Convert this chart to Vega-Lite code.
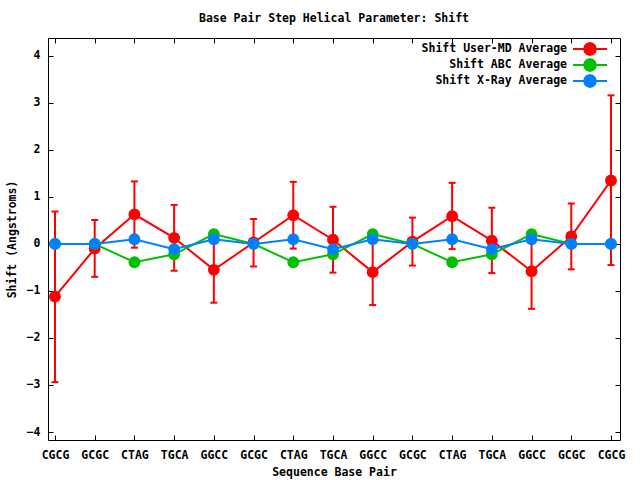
{
  "$schema": "https://vega.github.io/schema/vega-lite/v6.json",
  "width": 572,
  "height": 402,
  "autosize": {"type": "none"},
  "padding": {"left": 48, "top": 38, "right": 20, "bottom": 40},
  "background": "white",
  "title": {"text": "Base Pair Step Helical Parameter: Shift", "fontSize": 11.5, "font": "DejaVu Sans Mono", "fontWeight": "bold", "offset": 13, "color": "black"},
  "config": {
    "font": "DejaVu Sans Mono",
    "view": {"stroke": "black", "strokeWidth": 1},
    "axis": {
      "labelFont": "DejaVu Sans Mono", "labelFontWeight": "bold", "labelFontSize": 11.5, "labelColor": "black",
      "titleFont": "DejaVu Sans Mono", "titleFontWeight": "bold", "titleFontSize": 11.5, "titleColor": "black",
      "grid": false, "domain": false, "tickColor": "black", "tickSize": -5, "tickWidth": 1
    },
    "legend": {"labelFont": "DejaVu Sans Mono", "labelFontWeight": "bold", "labelFontSize": 11.5, "labelColor": "black"}
  },
  "data": {"values": [
    {"i": 0, "series": "Shift User-MD Average", "value": -1.12, "lo": -2.94, "hi": 0.69},
    {"i": 1, "series": "Shift User-MD Average", "value": -0.10, "lo": -0.70, "hi": 0.51},
    {"i": 2, "series": "Shift User-MD Average", "value": 0.63, "lo": -0.08, "hi": 1.33},
    {"i": 3, "series": "Shift User-MD Average", "value": 0.13, "lo": -0.57, "hi": 0.83},
    {"i": 4, "series": "Shift User-MD Average", "value": -0.55, "lo": -1.25, "hi": 0.15},
    {"i": 5, "series": "Shift User-MD Average", "value": 0.03, "lo": -0.48, "hi": 0.53},
    {"i": 6, "series": "Shift User-MD Average", "value": 0.61, "lo": -0.10, "hi": 1.32},
    {"i": 7, "series": "Shift User-MD Average", "value": 0.09, "lo": -0.61, "hi": 0.79},
    {"i": 8, "series": "Shift User-MD Average", "value": -0.60, "lo": -1.30, "hi": 0.10},
    {"i": 9, "series": "Shift User-MD Average", "value": 0.05, "lo": -0.46, "hi": 0.56},
    {"i": 10, "series": "Shift User-MD Average", "value": 0.59, "lo": -0.11, "hi": 1.30},
    {"i": 11, "series": "Shift User-MD Average", "value": 0.07, "lo": -0.62, "hi": 0.77},
    {"i": 12, "series": "Shift User-MD Average", "value": -0.58, "lo": -1.38, "hi": 0.22},
    {"i": 13, "series": "Shift User-MD Average", "value": 0.16, "lo": -0.54, "hi": 0.86},
    {"i": 14, "series": "Shift User-MD Average", "value": 1.35, "lo": -0.45, "hi": 3.16},
    {"i": 0, "series": "Shift ABC Average", "value": 0.0},
    {"i": 1, "series": "Shift ABC Average", "value": 0.0},
    {"i": 2, "series": "Shift ABC Average", "value": -0.39},
    {"i": 3, "series": "Shift ABC Average", "value": -0.22},
    {"i": 4, "series": "Shift ABC Average", "value": 0.21},
    {"i": 5, "series": "Shift ABC Average", "value": 0.0},
    {"i": 6, "series": "Shift ABC Average", "value": -0.39},
    {"i": 7, "series": "Shift ABC Average", "value": -0.22},
    {"i": 8, "series": "Shift ABC Average", "value": 0.21},
    {"i": 9, "series": "Shift ABC Average", "value": 0.0},
    {"i": 10, "series": "Shift ABC Average", "value": -0.39},
    {"i": 11, "series": "Shift ABC Average", "value": -0.22},
    {"i": 12, "series": "Shift ABC Average", "value": 0.21},
    {"i": 13, "series": "Shift ABC Average", "value": 0.0},
    {"i": 14, "series": "Shift ABC Average", "value": 0.0},
    {"i": 0, "series": "Shift X-Ray Average", "value": 0.0},
    {"i": 1, "series": "Shift X-Ray Average", "value": 0.0},
    {"i": 2, "series": "Shift X-Ray Average", "value": 0.10},
    {"i": 3, "series": "Shift X-Ray Average", "value": -0.11},
    {"i": 4, "series": "Shift X-Ray Average", "value": 0.10},
    {"i": 5, "series": "Shift X-Ray Average", "value": 0.0},
    {"i": 6, "series": "Shift X-Ray Average", "value": 0.10},
    {"i": 7, "series": "Shift X-Ray Average", "value": -0.11},
    {"i": 8, "series": "Shift X-Ray Average", "value": 0.10},
    {"i": 9, "series": "Shift X-Ray Average", "value": 0.0},
    {"i": 10, "series": "Shift X-Ray Average", "value": 0.10},
    {"i": 11, "series": "Shift X-Ray Average", "value": -0.11},
    {"i": 12, "series": "Shift X-Ray Average", "value": 0.10},
    {"i": 13, "series": "Shift X-Ray Average", "value": 0.0},
    {"i": 14, "series": "Shift X-Ray Average", "value": 0.0}
  ]},
  "resolve": {"axis": {"x": "independent", "y": "independent"}},
  "layer": [
    {
      "transform": [{"filter": "datum.series === 'Shift User-MD Average'"}],
      "mark": {"type": "rule", "color": "#ff0000", "strokeWidth": 2},
      "encoding": {
        "x": {"field": "i", "type": "quantitative", "axis": null, "scale": {"domain": [-0.176, 14.227], "nice": false, "zero": false}},
        "y": {"field": "lo", "type": "quantitative", "axis": null, "scale": {"domain": [-4.17, 4.38], "nice": false, "zero": false}},
        "y2": {"field": "hi"}
      }
    },
    {
      "transform": [{"filter": "datum.series === 'Shift User-MD Average'"}],
      "mark": {"type": "tick", "color": "#ff0000", "orient": "horizontal", "size": 7, "thickness": 2, "opacity": 1},
      "encoding": {
        "x": {"field": "i", "type": "quantitative", "axis": null},
        "y": {"field": "lo", "type": "quantitative", "axis": null}
      }
    },
    {
      "transform": [{"filter": "datum.series === 'Shift User-MD Average'"}],
      "mark": {"type": "tick", "color": "#ff0000", "orient": "horizontal", "size": 7, "thickness": 2, "opacity": 1},
      "encoding": {
        "x": {"field": "i", "type": "quantitative", "axis": null},
        "y": {"field": "hi", "type": "quantitative", "axis": null}
      }
    },
    {
      "mark": {"type": "line", "strokeWidth": 2},
      "encoding": {
        "x": {"field": "i", "type": "quantitative", "title": "Sequence Base Pair",
          "axis": {"values": [0,1,2,3,4,5,6,7,8,9,10,11,12,13,14], "labelExpr": "['CGCG','GCGC','CTAG','TGCA','GGCC','GCGC','CTAG','TGCA','GGCC','GCGC','CTAG','TGCA','GGCC','GCGC','CGCG'][datum.value]", "labelPadding": 14, "titlePadding": 6, "labelFlush": false, "labelOverlap": false}},
        "y": {"field": "value", "type": "quantitative", "title": "Shift (Angstroms)",
          "axis": {"values": [-4,-3,-2,-1,0,1,2,3,4], "format": "d", "labelPadding": 13, "titlePadding": 9, "labelFlush": false}},
        "color": {"field": "series", "type": "nominal",
          "scale": {"domain": ["Shift User-MD Average", "Shift ABC Average", "Shift X-Ray Average"], "range": ["#ff0000", "#00c000", "#0080ff"]},
          "legend": {"title": null, "orient": "none", "legendX": 536, "legendY": 5, "padding": 0,
            "labelAlign": "right", "labelOffset": -29, "labelLimit": 400,
            "symbolType": "M-3.4,0H3.4M1.17,0L1.01,0.58L0.58,1.01L0,1.17L-0.58,1.01L-1.01,0.58L-1.17,0L-1.01,-0.58L-0.58,-1.01L0,-1.17L0.58,-1.01L1.01,-0.58Z",
            "symbolSize": 100, "symbolStrokeWidth": 2, "rowPadding": -8,
            "encode": {"symbols": {"update": {"stroke": {"scale": "color", "field": "value"}, "fill": {"scale": "color", "field": "value"}, "opacity": {"value": 1}}}}}
        }
      }
    },
    {
      "mark": {"type": "point", "filled": true, "size": 140, "opacity": 1},
      "encoding": {
        "x": {"field": "i", "type": "quantitative", "axis": null},
        "y": {"field": "value", "type": "quantitative", "axis": null},
        "color": {"field": "series", "type": "nominal", "legend": null}
      }
    },
    {
      "mark": {"type": "point", "opacity": 0},
      "encoding": {
        "x": {"field": "i", "type": "quantitative", "axis": {"orient": "top", "values": [0,1,2,3,4,5,6,7,8,9,10,11,12,13,14], "labels": false, "title": null}},
        "y": {"field": "value", "type": "quantitative", "axis": {"orient": "right", "values": [-4,-3,-2,-1,0,1,2,3,4], "labels": false, "title": null}}
      }
    }
  ]
}
